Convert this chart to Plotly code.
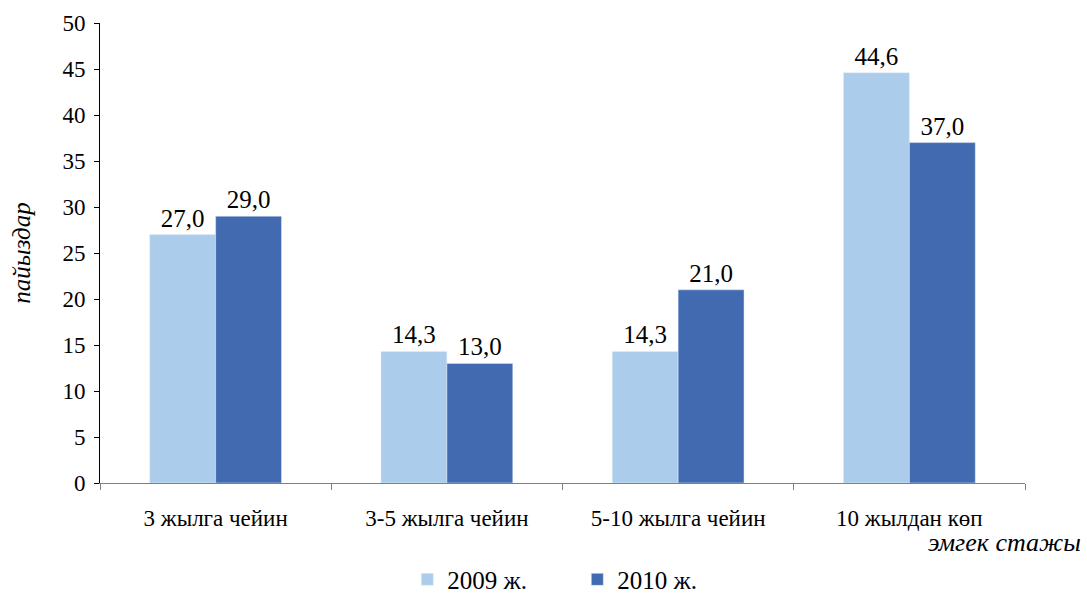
import plotly.graph_objects as go

categories = ["3 жылга чейин", "3-5 жылга чейин", "5-10 жылга чейин", "10 жылдан көп"]
values_2009 = [27.0, 14.3, 14.3, 44.6]
values_2010 = [29.0, 13.0, 21.0, 37.0]
series_names = ["2009 ж.", "2010 ж."]
y_ticks = [0, 5, 10, 15, 20, 25, 30, 35, 40, 45, 50]

font_family = "Liberation Serif, Times New Roman, serif"

fig = go.Figure()
fig.add_trace(go.Bar(x=categories, y=values_2009, name=series_names[0],
                     marker_color="#abcdeb", text=values_2009,
                     texttemplate="%{y:.1f}", textposition="outside",
                     textfont=dict(size=25, color="black"), cliponaxis=False))
fig.add_trace(go.Bar(x=categories, y=values_2010, name=series_names[1],
                     marker_color="#416ab1", text=values_2010,
                     texttemplate="%{y:.1f}", textposition="outside",
                     textfont=dict(size=25, color="black"), cliponaxis=False))

fig.update_layout(
    width=1087, height=593,
    barmode="group", bargap=0.43, bargroupgap=0,
    separators=", ",
    plot_bgcolor="white", paper_bgcolor="white",
    font=dict(family=font_family, size=23, color="black"),
    margin=dict(l=100, r=62, t=23, b=110, autoexpand=False),
    legend=dict(orientation="h", x=0.516, xanchor="center", y=-0.21, yanchor="middle",
                font=dict(size=25), itemwidth=30, traceorder="normal",
                entrywidth=125, entrywidthmode="pixels"),
    xaxis=dict(showline=True, linecolor="#808080", linewidth=1,
               ticks="outside", tickson="boundaries", ticklen=6, tickcolor="#808080",
               tickfont=dict(size=23), ticklabelstandoff=14),
    yaxis=dict(range=[0, 50], tickvals=y_ticks, showline=True, linecolor="black",
               linewidth=1, ticks="outside", ticklen=5, tickcolor="black",
               showgrid=False, zeroline=False, tickfont=dict(size=23),
               ticklabelstandoff=4,
               title=dict(text="<i>пайыздар</i>", font=dict(size=25), standoff=24)),
    annotations=[dict(text="<i>эмгек стажы</i>", x=1.063, y=-0.13, xref="paper", yref="paper",
                      xanchor="right", yanchor="middle", showarrow=False,
                      font=dict(size=26))],
)

# the page body has an 8px default margin; drop it so the figure fills the window
fig.write_html("out.html", config={"displayModeBar": False},
               post_script="document.body.style.margin='0';")
